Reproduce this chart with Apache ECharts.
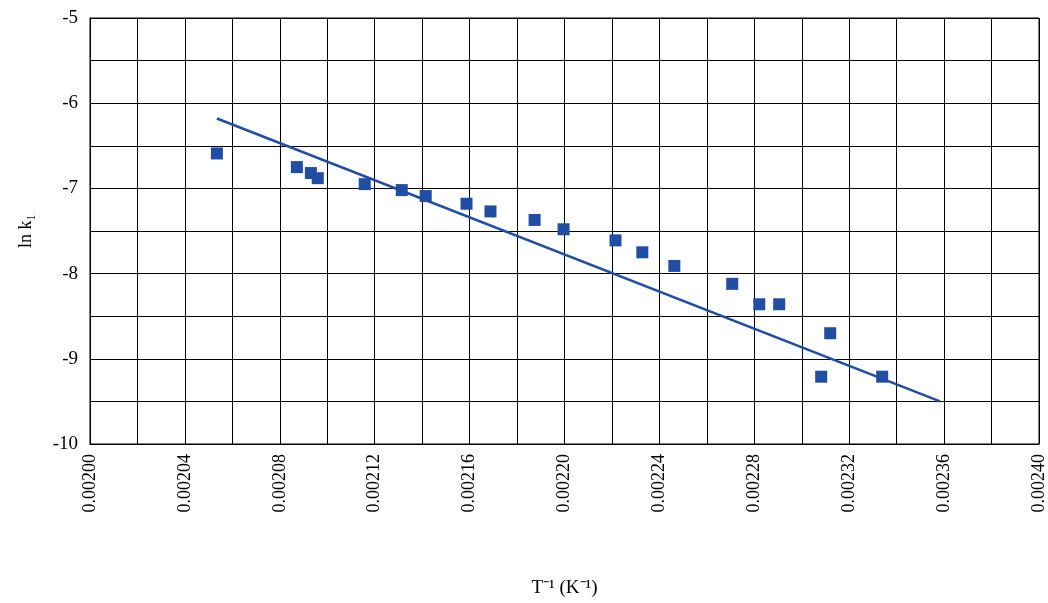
<!DOCTYPE html>
<html><head><meta charset="utf-8">
<script src="https://cdn.jsdelivr.net/npm/echarts@6/dist/echarts.min.js"></script>
<style>html,body{margin:0;background:#fff}#c{width:1048px;height:603px}</style>
</head><body><div id="c"></div>
<script>
const invT = [0.0020535,0.0020872,0.0020931,0.002096,0.0021158,0.0021314,0.0021415,0.0021587,0.0021688,0.0021874,0.0021996,0.0022215,0.0022328,0.0022463,0.0022707,0.0022821,0.0022905,0.002312,0.0023082,0.0023339];
const lnk = [-6.59,-6.75,-6.82,-6.88,-6.95,-7.02,-7.09,-7.18,-7.27,-7.37,-7.48,-7.61,-7.75,-7.91,-8.12,-8.36,-8.36,-8.70,-9.21,-9.21];
const fitX = [0.0020535, 0.0023583];
const fitY = [-6.18, -9.50];
const F = 'Liberation Serif';
const chart = echarts.init(document.getElementById('c'));
chart.setOption({
  animation:false,
  grid:{left:90,right:8,top:18,bottom:156,show:true,borderColor:'#000',borderWidth:1},
  xAxis:{type:'value',min:0.0020,max:0.0024,interval:0.00002,
    name:'T\u207B\u00B9 (K\u207B\u00B9)',nameLocation:'middle',nameGap:135,
    nameTextStyle:{fontFamily:F,fontSize:19,color:'#000'},
    axisLine:{lineStyle:{color:'#000'}},axisTick:{show:false},
    splitLine:{lineStyle:{color:'#000',width:1}},
    axisLabel:{rotate:90,fontFamily:F,fontSize:18,color:'#000',margin:10,
      formatter:v=>Math.round(v*1e5)%4===0?v.toFixed(5):''}},
  yAxis:{type:'value',min:-10,max:-5,interval:0.5,
    name:'ln k\u2081',nameLocation:'middle',nameGap:55,nameRotate:90,
    nameTextStyle:{fontFamily:F,fontSize:18,color:'#000'},
    axisLine:{show:true,lineStyle:{color:'#000'}},axisTick:{show:false},
    splitLine:{lineStyle:{color:'#000',width:1}},
    axisLabel:{fontFamily:F,fontSize:19,color:'#000',margin:12,
      formatter:v=>Number.isInteger(v)?String(v):''}},
  series:[
    {type:'scatter',data:invT.map((x,i)=>[x,lnk[i]]),symbol:'rect',symbolSize:12,itemStyle:{color:'#1f4ea3',opacity:1}},
    {type:'line',data:fitX.map((x,i)=>[x,fitY[i]]),symbol:'none',lineStyle:{color:'#1f4ea3',width:2.5}}
  ]
});
</script></body></html>
